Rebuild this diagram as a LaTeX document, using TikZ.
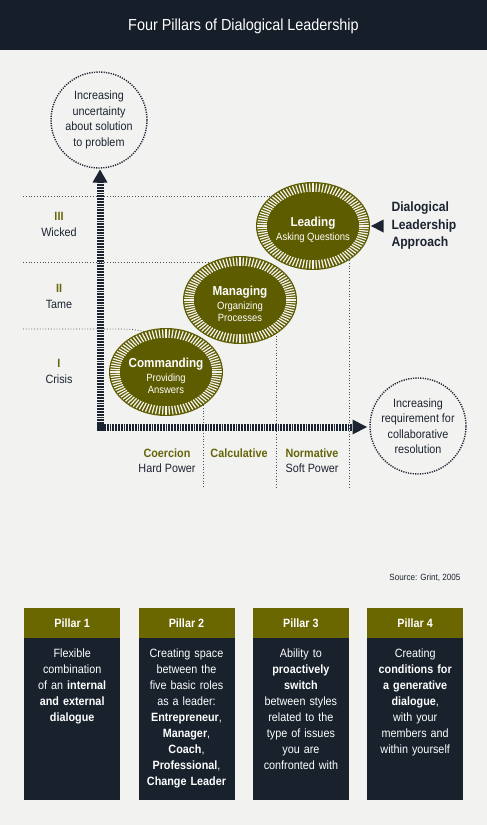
\documentclass[tikz,border=0pt]{standalone}
\usepackage{fontspec}
\setmainfont{Liberation Sans}[FakeStretch=0.9]
\usetikzlibrary{shapes.geometric}
\definecolor{bgc}{HTML}{F2F2F0}
\definecolor{barc}{HTML}{161E29}
\definecolor{darkc}{HTML}{1C2431}
\definecolor{olivec}{HTML}{5E5C00}
\definecolor{oliveh}{HTML}{6B6700}
\definecolor{olivet}{HTML}{66650A}
\definecolor{bodyc}{HTML}{18212C}
\newcommand\subfnt{\fontsize{10.5}{13}\selectfont\mdseries}
\newcommand\olivesun[4]{%
  \node[sunout] (#1) at (#2,#3) {};
  \foreach \a in {0,3.6,...,359}
    \draw[sunray,shift={(#2,#3)}] (\a:46 and 34) -- (\a:55.7 and 42.7);
  \node[sunin] (#1in) at (#2,#3) {};
  \node[suntext] (#1txt) at (#2,#3+3.5) {#4};
}
\tikzset{
  sunout/.style={ellipse,minimum width=114pt,minimum height=88pt,inner sep=0pt,fill=olivec},
  sunin/.style={ellipse,minimum width=92pt,minimum height=68pt,inner sep=0pt,fill=olivec},
  sunray/.style={white!92!olivec,line width=1.25pt},
  suntext/.style={text=white,align=center,font=\fontsize{13}{15}\selectfont\bfseries},
  axisline/.style={darkc,line width=7pt,dash pattern=on 1.8pt off 1pt},
  guide/.style={darkc!80,line width=0.8pt,dotted},
  bubble/.style={circle,minimum size=96pt,inner sep=0pt,draw=darkc,line width=1.4pt,dash pattern=on 1.2pt off 1.2pt,text=darkc,align=center,font=\fontsize{12}{15.5}\selectfont},
  lvl/.style={text=darkc,align=center,font=\fontsize{12}{16}\selectfont},
  pwr/.style={text=darkc,align=center,font=\fontsize{12}{15}\selectfont},
  phead/.style={fill=oliveh,minimum width=96pt,minimum height=30pt,inner sep=0pt,text=white,font=\fontsize{12}{14}\selectfont\bfseries,anchor=north west},
  pbody/.style={fill=bodyc,minimum width=96pt,minimum height=162pt,inner sep=0pt,anchor=north west},
  ptext/.style={text=white,text width=94pt,align=center,inner sep=0pt,anchor=north,font=\fontsize{12}{16}\selectfont},
}
\begin{document}
\begin{tikzpicture}[x=1pt,y=-1pt]
\fill[bgc] (0,0) rectangle (487,825);
\useasboundingbox (0,0) rectangle (487,825);
% title bar
\fill[barc] (0,0) rectangle (487,50);
\node[text=white,font=\fontsize{16}{18}\selectfont] (title) at (243.5,26) {Four Pillars of Dialogical Leadership};

% horizontal guides
\coordinate (h1a) at (23,196); \coordinate (h1b) at (272,196);
\coordinate (h2a) at (23,262); \coordinate (h2b) at (212,262);
\coordinate (h3a) at (23,329); \coordinate (h3b) at (158,337);
\draw[guide] (h1a) -- (h1b);
\draw[guide] (h2a) -- (h2b);
\draw[guide] (h3a) -- (120,329) .. controls (138,329) and (150,332) .. (h3b);
% vertical guides
\coordinate (v1a) at (203,405); \coordinate (v1b) at (203,488);
\coordinate (v2a) at (276,333); \coordinate (v2b) at (276,488);
\coordinate (v3a) at (349,260); \coordinate (v3b) at (349,488);
\draw[guide] (v1a) -- (v1b);
\draw[guide] (v2a) -- (v2b);
\draw[guide] (v3a) -- (v3b);

% axes
\coordinate (orig) at (100,427);
\coordinate (ytop) at (100,182);
\coordinate (xend) at (353,427);
\draw[axisline] (100,424) -- (ytop);
\draw[axisline] (104,427) -- (xend);
\fill[darkc] (96.5,423.5) rectangle (104,430.5);
\fill[darkc] (92.5,182.5) -- (107.5,182.5) -- (100,169.5) -- cycle;
\fill[darkc] (352.5,419.5) -- (352.5,434.5) -- (367,427) -- cycle;

% bubbles
\node[bubble] (unc) at (99,120) {Increasing\\uncertainty\\about solution\\to problem};
\node[bubble] (req) at (418,426) {Increasing\\requirement for\\collaborative\\resolution};

% ellipses
\olivesun{lead}{313}{226}{Leading\\[-1pt]{\subfnt Asking Questions}}
\olivesun{man}{240}{300}{Managing\\[-1pt]{\subfnt Organizing}\\[-3pt]{\subfnt Processes}}
\olivesun{com}{166}{372}{Commanding\\[-1pt]{\subfnt Providing}\\[-3pt]{\subfnt Answers}}

% levels
\node[lvl] (l3) at (59,224) {\textcolor{olivet}{\bfseries III}\\Wicked};
\node[lvl] (l2) at (59,296.5) {\textcolor{olivet}{\bfseries II}\\Tame};
\node[lvl] (l1) at (59,371.5) {\textcolor{olivet}{\bfseries I}\\Crisis};

% power labels
\node[pwr] (coer) at (167,460.5) {\textcolor{olivet}{\bfseries Coercion}\\Hard Power};
\node[pwr,anchor=base] (calc) at (239,457.5) {\textcolor{olivet}{\bfseries Calculative}};
\node[pwr] (norm) at (312,460.5) {\textcolor{olivet}{\bfseries Normative}\\Soft Power};

% dialogical
\node[text=darkc,align=left,anchor=west,font=\fontsize{13.5}{17.5}\selectfont\bfseries] (dla) at (388,226) {Dialogical\\Leadership\\Approach};
\coordinate (dtip) at (371,226);
\fill[darkc] (dtip) -- (383.5,219.5) -- (383.5,232.5) -- cycle;

% source
\node[text=darkc,anchor=east,font=\fontsize{9}{11}\selectfont] (src) at (464,578) {Source: Grint, 2005};

% pillars
\foreach \i/\x in {1/24,2/138.3,3/252.7,4/367}{
  \node[pbody] (pb\i) at (\x,638) {};
  \node[phead] (ph\i) at (\x,608) {Pillar \i};
}
\node[ptext] (pt1) at ([yshift=-11pt]pb1.north) {Flexible\\combination\\of an \textbf{internal}\\\textbf{and external}\\\textbf{dialogue}};
\node[ptext] (pt2) at ([yshift=-11pt]pb2.north) {Creating space\\between the\\five basic roles\\as a leader:\\\textbf{Entrepreneur},\\\textbf{Manager},\\\textbf{Coach},\\\textbf{Professional},\\\textbf{Change Leader}};
\node[ptext] (pt3) at ([yshift=-11pt]pb3.north) {Ability to\\\textbf{proactively}\\\textbf{switch}\\between styles\\related to the\\type of issues\\you are\\confronted with};
\node[ptext] (pt4) at ([yshift=-11pt]pb4.north) {Creating\\\textbf{conditions for}\\\textbf{a generative}\\\textbf{dialogue},\\with your\\members and\\within yourself};
\end{tikzpicture}
\end{document}
